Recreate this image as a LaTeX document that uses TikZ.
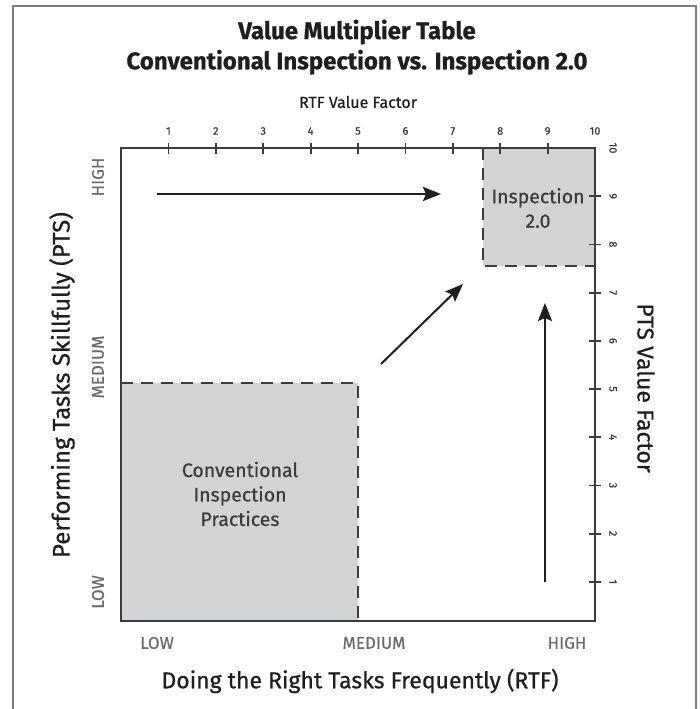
\documentclass[tikz,border=0pt]{standalone}
\usepackage{fontspec}
\setmainfont{Fira Sans}[FakeBold=0.6]
\usetikzlibrary{positioning,arrows.meta}
\definecolor{boxgray}{HTML}{D1D3D4}
\definecolor{linegray}{HTML}{3C3C3C}
\definecolor{framegray}{HTML}{7E7E7E}
\definecolor{levelgray}{HTML}{6A6A6A}
\definecolor{inkblack}{HTML}{1E1E1E}

\begin{document}
\begin{tikzpicture}[x=1pt,y=-1pt,
    axis/.style={draw=linegray,line width=2.2pt},
    zoneedge/.style={draw=linegray,line width=2.6pt,dash pattern=on 12pt off 8pt},
    move/.style={-{Stealth[length=18pt,width=14pt,inset=3pt]},line width=2pt,draw=inkblack,fill=inkblack},
    level/.style={text=levelgray,font=\fontsize{17}{18}\selectfont},
    tick/.style={text=linegray,font=\fontsize{11}{12}\selectfont},
    heading/.style={text=inkblack,font=\fontsize{24}{26}\selectfont\bfseries,inner sep=1pt},
    axislabel/.style={text=inkblack,font=\fontsize{23}{25}\selectfont},
    zonelabel/.style={text=linegray,align=center,font=\fontsize{19.5}{24.5}\selectfont}]
    \useasboundingbox (0,0) rectangle (699,709);
    % outer frame
    \draw[framegray,line width=2pt] (13,709) -- (13,6) -- (696,6) -- (696,709);
    % shaded zones
    \fill[boxgray] (121,383) rectangle (358,621);
    \fill[boxgray] (483,148) rectangle (595,266);
    \draw[zoneedge] (121,383) -- (358,383) -- (358,621);
    \draw[zoneedge] (483,148) -- (483,266) -- (595,266);
    \draw[axis] (121,148) rectangle (595,621);
    % value factor scales
    \foreach \k in {1,...,9}
      \draw[axis,line width=1.8pt] (121+47.4*\k,143) -- ++(0,11);
    \foreach \k in {1,...,9}
      \draw[axis,line width=1.8pt] (589,630-48.2*\k) -- ++(12,0);
    \foreach \k in {1,...,10} {
      \node[tick] (top\k) at (121+47.4*\k,131) {\k};
      \node[tick,rotate=-90] (right\k) at (613,630-48.2*\k) {\k};
    }
    % titles
    \node[heading] (title) at (357,32) {Value Multiplier Table};
    \node[heading,below=3pt of title] (subtitle) {Conventional Inspection vs. Inspection 2.0};
    \node[axislabel,font=\fontsize{16}{18}\selectfont] (rtf) at (358,102) {RTF Value Factor};
    \node[axislabel,rotate=-90] (pts) at (646,388) {PTS Value Factor};
    \node[axislabel,font=\fontsize{24}{26}\selectfont,rotate=90] (skill) at (62,385) {Performing Tasks Skillfully (PTS)};
    \node[axislabel] (freq) at (360,681) {Doing the Right Tasks Frequently (RTF)};
    % levels
    \node[level,rotate=90] (yhigh) at (98,177) {HIGH};
    \node[level,rotate=90] (ymed) at (98,367) {MEDIUM};
    \node[level,rotate=90] (ylow) at (98,592) {LOW};
    \node[level] (xlow) at (157,643) {LOW};
    \node[level] (xmed) at (374,643) {MEDIUM};
    \node[level] (xhigh) at (567,643) {HIGH};
    % zone labels
    \node[zonelabel] (conv) at (240,494) {Conventional\\Inspection\\Practices};
    \node[zonelabel] (insp) at (538,208) {Inspection\\2.0};
    % moves towards Inspection 2.0
    \coordinate (a1) at (157,194);
    \coordinate (b1) at (441,194);
    \coordinate (a2) at (381,364);
    \coordinate (b2) at (463,284);
    \coordinate (a3) at (545,582);
    \coordinate (b3) at (545,303);
    \draw[move] (a1) -- (b1);
    \draw[move] (a2) -- (b2);
    \draw[move] (a3) -- (b3);
\end{tikzpicture}
\end{document}
